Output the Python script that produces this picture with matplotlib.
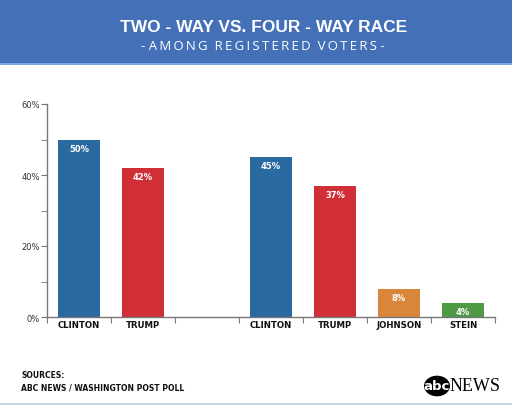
import matplotlib.pyplot as plt
from matplotlib.patches import Rectangle, Circle

# Poll data
categories = ['CLINTON', 'TRUMP', '', 'CLINTON', 'TRUMP', 'JOHNSON', 'STEIN']
values = [50, 42, 0, 45, 37, 8, 4]
colors = ['#2b6aa0', '#d12f37', '#ffffff', '#2b6aa0', '#d12f37', '#d9863a', '#4f9a45']
yticks = [0, 20, 40, 60]
ytick_labels = ['0%', '20%', '40%', '60%']

W, H = 512, 406
fig = plt.figure(figsize=(W / 100, H / 100), dpi=100)
fig.patch.set_facecolor('white')

def fx(px):
    return px / W

def fy(py):
    return 1 - py / H

# header band
fig.patches.append(Rectangle((0, fy(64)), 1, 64 / H, transform=fig.transFigure,
                             facecolor='#4470b8', edgecolor='none', zorder=0))
fig.patches.append(Rectangle((0, fy(66)), 1, 2 / H, transform=fig.transFigure,
                             facecolor='#7aa6e0', edgecolor='none', zorder=0))
fig.text(fx(264), fy(27), 'TWO - WAY VS. FOUR - WAY RACE', color='white',
         fontsize=12.5, fontweight='bold', family='Liberation Sans',
         ha='center', va='center')
subtitle = '- ' + '\u2009'.join('AMONG REGISTERED VOTERS').replace('\u2009 \u2009', '  ') + ' -'
fig.text(fx(263), fy(46), subtitle, color='white', fontsize=9.5,
         family='Open Sans', ha='center', va='center')

# chart
ax = fig.add_axes([fx(47), fy(318), fx(495) - fx(47), (318 - 105) / H])
x = list(range(len(categories)))
bars = ax.bar(x, values, width=0.66, color=colors, zorder=2)
for xi, v in zip(x, values):
    if v > 0:
        ax.text(xi, v - 2.4, f'{v}%', color='white', fontsize=6, fontweight='bold',
                ha='center', va='center', zorder=3)

ax.set_xlim(-0.5, len(categories) - 0.5)
ax.set_ylim(0, 60)
ax.set_yticks(yticks)
ax.set_yticklabels(ytick_labels)
ax.set_yticks([10, 30, 50], minor=True)
ax.set_xticks([i - 0.5 for i in range(len(categories) + 1)])
ax.set_xticklabels([])
ax.set_xticks(x, minor=True)
ax.set_xticklabels(categories, minor=True)

for side in ['top', 'right']:
    ax.spines[side].set_visible(False)
for side in ['left', 'bottom']:
    ax.spines[side].set_color('#777777')
    ax.spines[side].set_linewidth(1)

ax.tick_params(axis='y', which='both', length=4, color='#777777', labelsize=6,
               labelcolor='#333333', pad=1)
ax.tick_params(axis='x', which='major', length=4, color='#777777')
ax.tick_params(axis='x', which='minor', length=0, labelsize=6.2, pad=2,
               labelcolor='#111111')
for lbl in ax.get_xticklabels(minor=True):
    lbl.set_fontweight('semibold')

# footer
fig.text(fx(21), fy(376), 'SOURCES:', fontsize=5.5, color='#111111', va='center',
         fontweight='semibold')
fig.text(fx(21), fy(388), 'ABC NEWS / WASHINGTON POST POLL', fontsize=5.5,
         color='#111111', va='center', fontweight='semibold')
fig.patches.append(Circle((fx(437), fy(387)), 13 / W, transform=fig.transFigure,
                          facecolor='black', edgecolor='none'))
fig.text(fx(437), fy(387), 'abc', color='white', fontsize=9.5, fontweight='bold',
         ha='center', va='center')
fig.text(fx(450), fy(387), 'NEWS', color='black', fontsize=13,
         family='Liberation Serif', ha='left', va='center')
fig.patches.append(Rectangle((0, 0), 1, 2 / H, transform=fig.transFigure,
                             facecolor='#c9d5de', edgecolor='none'))

fig.savefig('out.png', dpi=100)
